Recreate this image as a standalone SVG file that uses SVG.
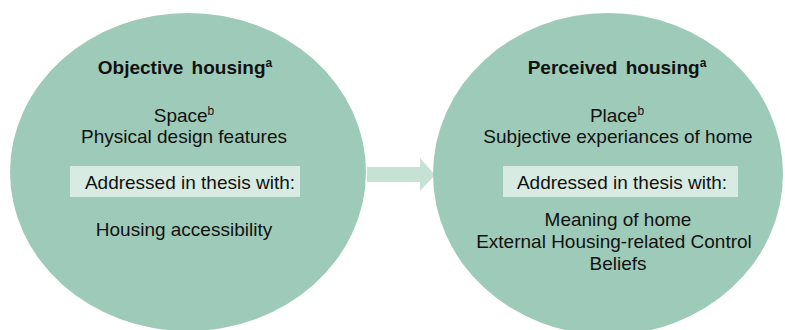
<svg xmlns="http://www.w3.org/2000/svg" width="785" height="330" viewBox="0 0 785 330">
<style>
.circ{fill:#9ecbb9}
.box{fill:#d7ebe3}
text{font-family:"Liberation Sans",Arial,sans-serif;font-size:19px;fill:#111;text-anchor:middle}
.t{font-weight:bold;word-spacing:3px}
.sup{font-size:12px}
</style>
<rect width="785" height="330" fill="#fff"/>
<g id="connectors">
<path d="M367 167 H420 V158 L435 175 L420 191 V182 H367 Z" fill="#c6e2d6"/>
</g>
<g id="objective">
<ellipse class="circ" cx="188" cy="172" rx="178" ry="159"/>
<text class="t" x="185" y="74">Objective housing<tspan class="sup" dy="-7">a</tspan></text>
<text x="184" y="122">Space<tspan class="sup" dy="-7">b</tspan></text>
<text x="184" y="143">Physical design features</text>
<rect class="box" x="70" y="166" width="230" height="31"/>
<text x="190" y="189">Addressed in thesis with:</text>
<text x="184" y="236">Housing accessibility</text>
</g>
<g id="perceived">
<ellipse class="circ" cx="608" cy="174" rx="175" ry="161"/>
<text class="t" x="617" y="74">Perceived housing<tspan class="sup" dy="-7">a</tspan></text>
<text x="617" y="122">Place<tspan class="sup" dy="-7">b</tspan></text>
<text x="618" y="143">Subjective experiances of home</text>
<rect class="box" x="503" y="166" width="235" height="31"/>
<text x="622" y="189">Addressed in thesis with:</text>
<text x="618" y="226">Meaning of home</text>
<text x="614" y="248">External Housing-related Control</text>
<text x="618" y="270">Beliefs</text>
</g>
</svg>
